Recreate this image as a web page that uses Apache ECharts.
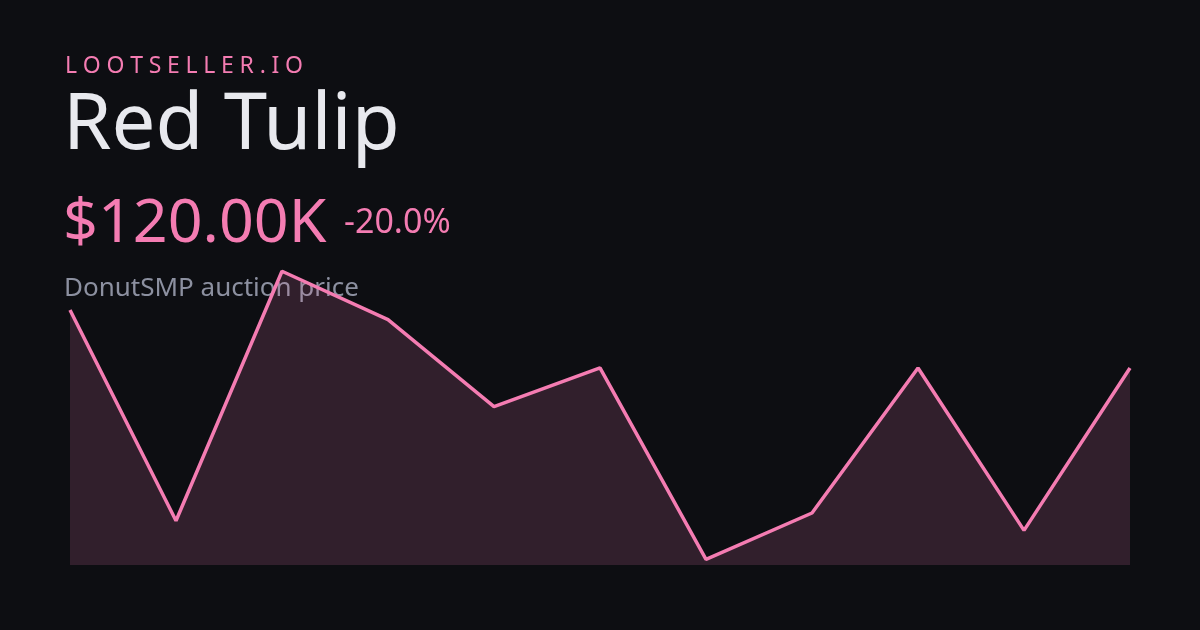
<!DOCTYPE html>
<html>
<head>
<meta charset="utf-8">
<style>
html,body{margin:0;padding:0;background:#0d0e12;}
#chart{width:1200px;height:630px;}
</style>
<script src="https://cdn.jsdelivr.net/npm/echarts@6/dist/echarts.min.js"></script>
</head>
<body>
<div id="chart"></div>
<script>
// Data (values in $K)
const categories = ['1','2','3','4','5','6','7','8','9','10','11'];
const prices = [150, 41, 170, 145, 100, 120, 21, 45, 120, 36, 120];
const brand = 'LOOTSELLER.IO';
const itemName = 'Red Tulip';
const priceLabel = '$120.00K';
const changeLabel = '-20.0%';
const subtitle = 'DonutSMP auction price';

const FONT = '"Noto Sans", "Open Sans", sans-serif';
const PINK = '#f47cb2';

// letter-spaced brand text via per-character elements
function spacedText(text, x, y, size, color, totalWidth) {
  const c = document.createElement('canvas').getContext('2d');
  c.font = size + 'px ' + FONT;
  const widths = [...text].map(ch => c.measureText(ch).width);
  const natural = widths.reduce((a, b) => a + b, 0);
  const gap = (totalWidth - natural) / (text.length - 1);
  const els = [];
  let cx = x;
  [...text].forEach((ch, i) => {
    els.push({type: 'text', x: cx, y: y, z: 1,
      style: {text: ch, fill: color, fontSize: size, fontFamily: FONT, verticalAlign: 'middle'}});
    cx += widths[i] + gap;
  });
  return els;
}

const chart = echarts.init(document.getElementById('chart'), null, {renderer: 'canvas'});
chart.setOption({
  backgroundColor: '#0d0e12',
  animation: false,
  grid: {left: 70, right: 70, top: 250, bottom: 65},
  xAxis: {type: 'category', data: categories, boundaryGap: false, show: false},
  yAxis: {type: 'value', min: 18.1, max: 181, show: false},
  graphic: [
    ...spacedText(brand, 65, 66, 23, PINK, 238),
    {type: 'text', x: 63, y: 127, z: 1, style: {text: itemName, fill: '#e8e9ee', fontSize: 78, fontFamily: FONT, verticalAlign: 'middle'}},
    {type: 'text', x: 63, y: 225, z: 1, style: {text: priceLabel, fill: PINK, fontSize: 61, fontFamily: FONT, verticalAlign: 'middle'}},
    {type: 'text', x: 344, y: 223.5, z: 1, style: {text: changeLabel, fill: PINK, fontSize: 34, fontFamily: FONT, verticalAlign: 'middle'}},
    {type: 'text', x: 64, y: 289, z: 1, style: {text: subtitle, fill: '#8c90a0', fontSize: 26, fontFamily: FONT, verticalAlign: 'middle'}}
  ],
  series: [{
    type: 'line',
    data: prices,
    symbol: 'none',
    z: 5,
    clip: false,
    lineStyle: {color: PINK, width: 3.5},
    areaStyle: {color: PINK, opacity: 0.16}
  }]
});
</script>
</body>
</html>
